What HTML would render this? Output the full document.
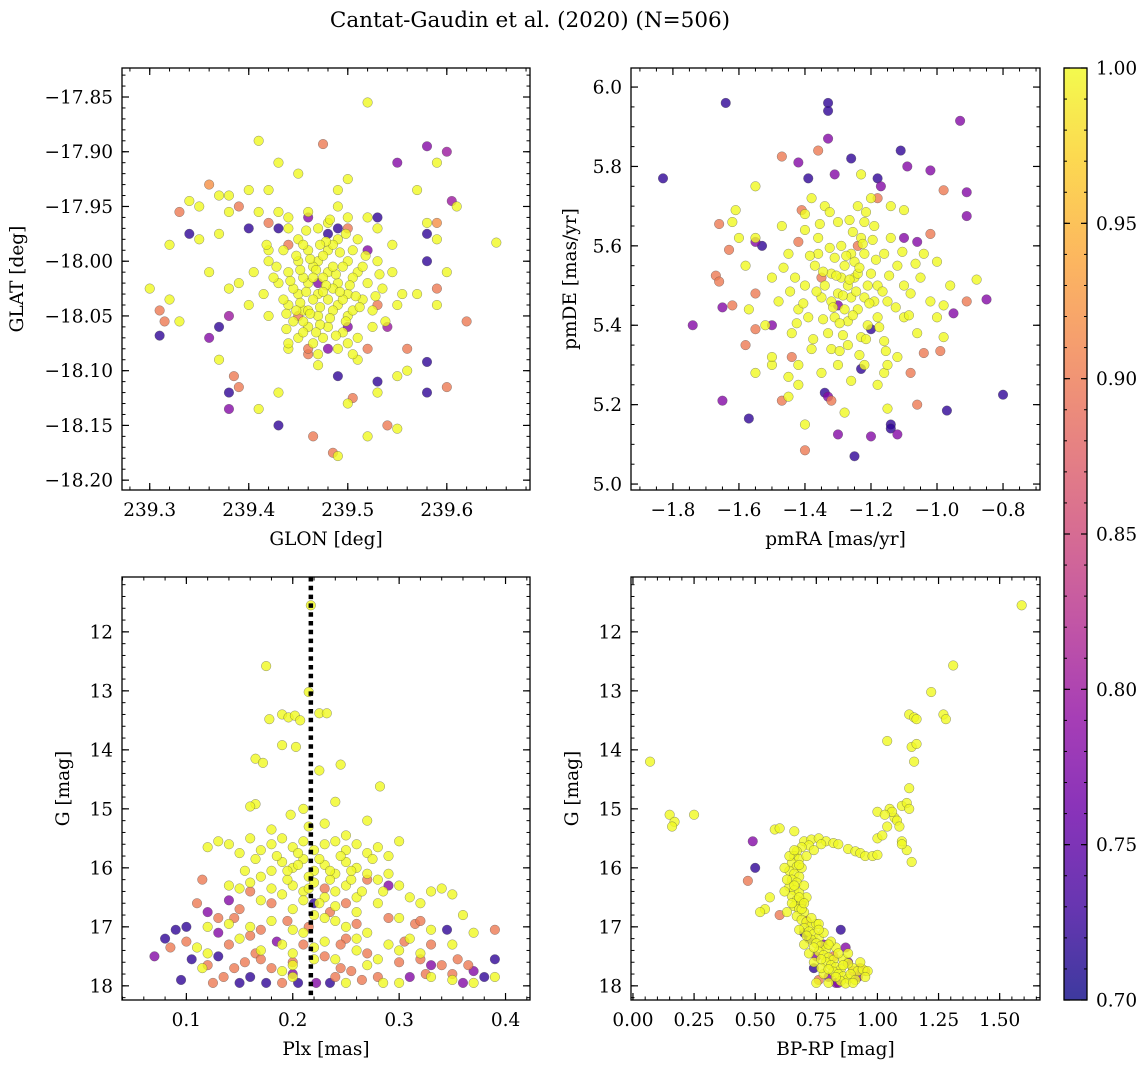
<!DOCTYPE html>
<html><head><meta charset="utf-8"><style>
html,body{margin:0;padding:0;background:#fff;}
svg{display:block;font-family:"DejaVu Serif","Liberation Serif",serif;}
</style></head><body>
<svg id="fig" width="1148" height="1067" viewBox="0 0 1148 1067" xmlns="http://www.w3.org/2000/svg">
<text x="530" y="27" font-size="21.5" text-anchor="middle">Cantat-Gaudin et al. (2020) (N=506)</text>
</svg>
<script>
// ---- data: [x, y, membership probability] ----
const skyStars = [
[239.52,-17.855,1],[239.41,-17.89,1],[239.475,-17.893,0.9],[239.58,-17.895,0.78],[239.60,-17.90,0.8],[239.55,-17.91,0.78],[239.59,-17.91,1],[239.43,-17.91,1],[239.45,-17.92,1],[239.50,-17.925,1],[239.49,-17.935,1],[239.57,-17.935,1],[239.36,-17.93,0.92],[239.37,-17.94,1],[239.38,-17.94,1],[239.40,-17.935,1],[239.42,-17.935,1],[239.34,-17.945,1],[239.33,-17.955,0.9],[239.35,-17.95,1],[239.38,-17.955,1],[239.39,-17.95,0.9],[239.41,-17.955,1],[239.44,-17.96,1],[239.50,-17.96,1],[239.53,-17.96,0.72],[239.58,-17.965,1],[239.59,-17.965,0.92],[239.61,-17.95,1],[239.605,-17.945,0.8],[239.65,-17.983,1],[239.32,-17.985,1],[239.35,-17.98,1],[239.37,-17.975,1],[239.34,-17.975,0.72],[239.40,-17.97,0.72],[239.42,-17.965,0.9],[239.58,-17.975,0.72],[239.59,-17.98,1],[239.30,-18.025,1],[239.32,-18.035,1],[239.31,-18.045,0.9],[239.315,-18.055,0.9],[239.33,-18.055,1],[239.31,-18.068,0.72],[239.36,-18.07,0.78],[239.37,-18.06,0.72],[239.38,-18.05,0.8],[239.36,-18.01,1],[239.38,-18.025,1],[239.37,-18.09,1],[239.38,-18.12,0.72],[239.39,-18.115,0.9],[239.385,-18.105,0.9],[239.38,-18.135,0.78],[239.41,-18.135,1],[239.43,-18.12,1],[239.43,-18.15,0.72],[239.465,-18.16,0.9],[239.49,-18.178,1],[239.485,-18.175,0.9],[239.52,-18.16,1],[239.54,-18.15,0.9],[239.55,-18.153,1],[239.50,-18.13,1],[239.505,-18.125,0.9],[239.53,-18.12,1],[239.53,-18.11,0.72],[239.49,-18.105,0.72],[239.47,-18.095,1],[239.51,-18.09,1],[239.55,-18.105,1],[239.56,-18.10,1],[239.58,-18.092,0.72],[239.58,-18.12,0.72],[239.60,-18.115,0.9],[239.62,-18.055,0.9],[239.59,-18.04,1],[239.59,-18.025,0.9],[239.60,-18.01,1],[239.58,-18.00,0.72],[239.57,-18.03,1],[239.55,-18.04,1],[239.56,-18.08,0.9],[239.44,-18.08,1],[239.45,-18.07,1],[239.42,-18.05,1],[239.40,-18.04,1],[239.39,-18.02,1],[239.42,-17.99,1],[239.43,-17.97,0.72],[239.52,-18.08,0.9],[239.54,-18.06,0.8],[239.46,-18.085,0.9],
[239.47,-18.00,1],[239.48,-18.01,1],[239.46,-18.02,1],[239.49,-18.02,1],[239.45,-18.00,1],[239.50,-18.00,1],[239.47,-18.03,1],[239.48,-17.99,1],[239.46,-17.99,1],[239.44,-18.01,1],[239.51,-18.01,1],[239.49,-18.04,1],[239.45,-18.03,1],[239.47,-18.05,1],[239.50,-18.03,1],[239.52,-18.02,1],[239.43,-18.02,1],[239.48,-18.06,1],[239.46,-18.06,1],[239.50,-18.05,1],[239.44,-18.04,1],[239.53,-18.00,1],[239.42,-18.00,1],[239.49,-17.98,1],[239.47,-17.97,1],[239.45,-17.98,1],[239.51,-17.98,1],[239.53,-17.97,1],[239.44,-17.97,1],[239.48,-17.965,1],[239.455,-18.015,1],[239.475,-18.015,1],[239.485,-18.025,1],[239.465,-18.035,1],[239.495,-18.005,1],[239.465,-18.005,1],[239.475,-17.995,1],[239.455,-18.045,1],[239.485,-18.045,1],[239.505,-18.015,1],[239.515,-18.035,1],[239.435,-18.035,1],[239.445,-18.055,1],[239.495,-18.065,1],[239.475,-18.07,1],[239.465,-18.075,1],[239.455,-18.065,1],[239.525,-18.045,1],[239.535,-18.025,1],[239.545,-18.01,1],[239.425,-18.015,1],[239.415,-18.03,1],[239.405,-18.01,1],[239.545,-17.985,1],[239.555,-18.03,1],[239.52,-17.96,1],[239.46,-17.955,1],[239.49,-17.95,1],[239.43,-17.955,1],[239.50,-18.075,1],[239.44,-18.075,1],[239.455,-17.985,1],[239.505,-17.99,1],[239.435,-17.99,1],[239.525,-18.06,1],[239.47,-18.085,1],[239.51,-18.07,1],[239.49,-18.08,1],[239.485,-17.985,1],[239.495,-18.035,1],[239.46,-18.045,1],[239.48,-18.035,1],[239.445,-18.025,1],[239.505,-18.045,1],[239.515,-18.005,1],
[239.468,-18.008,1],[239.478,-18.022,1],[239.458,-18.028,1],[239.488,-18.012,1],[239.472,-18.042,1],[239.462,-17.998,1],[239.492,-17.992,1],[239.482,-18.052,1],[239.452,-18.008,1],[239.502,-18.022,1],[239.442,-18.018,1],[239.512,-18.042,1],[239.472,-18.058,1],[239.452,-18.038,1],[239.498,-18.055,1],[239.438,-18.048,1],[239.518,-17.995,1],[239.478,-17.982,1],[239.458,-17.972,1],[239.498,-17.975,1],[239.428,-18.005,1],[239.532,-18.012,1],[239.465,-18.015,1],[239.485,-18.005,1],[239.475,-18.028,1],[239.455,-18.055,1],[239.488,-18.068,1],[239.468,-18.065,1],[239.438,-18.062,1],[239.528,-18.032,1],[239.448,-17.995,1],[239.508,-18.032,1],[239.462,-18.048,1],[239.492,-18.028,1],[239.448,-18.045,1],[239.418,-17.985,1],[239.538,-18.055,1],[239.472,-17.985,1],[239.482,-17.962,1],[239.505,-18.085,1],
[239.47,-18.02,0.78],[239.49,-17.97,0.72],[239.46,-17.96,0.78],[239.50,-17.97,0.9],[239.52,-17.99,0.78],[239.45,-18.05,0.9],[239.50,-18.06,0.78],[239.44,-17.985,0.9],[239.48,-17.975,0.72],[239.53,-18.04,0.9],[239.46,-18.08,0.9],[239.48,-18.08,0.78]
];
const pmStars = [
[-1.64,5.96,0.72],[-1.33,5.96,0.72],[-1.33,5.94,0.72],[-1.83,5.77,0.72],[-0.93,5.915,0.78],[-1.33,5.87,0.78],[-1.26,5.82,0.72],[-1.36,5.84,0.9],[-1.47,5.825,0.9],[-1.42,5.81,0.78],[-1.11,5.84,0.72],[-1.09,5.80,0.78],[-1.02,5.79,0.78],[-1.18,5.77,0.72],[-1.31,5.78,0.78],[-1.39,5.77,0.72],[-1.23,5.78,1],[-1.55,5.75,1],[-0.98,5.74,0.9],[-0.91,5.735,0.78],[-1.17,5.75,0.78],[-1.61,5.69,1],[-1.66,5.655,0.9],[-1.41,5.69,0.9],[-1.10,5.69,1],[-0.91,5.675,0.78],[-1.63,5.59,0.9],[-1.55,5.61,0.78],[-1.53,5.60,0.72],[-1.67,5.525,0.9],[-1.66,5.51,0.9],[-1.74,5.40,0.78],[-1.65,5.445,0.78],[-1.62,5.45,0.9],[-1.55,5.48,0.9],[-1.57,5.44,1],[-1.55,5.39,0.9],[-1.65,5.21,0.78],[-1.57,5.165,0.72],[-1.47,5.21,0.9],[-1.40,5.085,0.9],[-1.25,5.07,0.72],[-1.20,5.12,0.78],[-1.30,5.125,0.78],[-1.34,5.23,0.72],[-1.33,5.22,0.78],[-1.32,5.21,0.9],[-1.14,5.15,0.72],[-1.14,5.14,0.72],[-1.12,5.125,0.78],[-0.97,5.185,0.72],[-0.80,5.225,0.72],[-1.15,5.19,1],[-1.06,5.20,0.9],[-1.23,5.29,0.72],[-1.04,5.33,0.9],[-0.99,5.335,0.9],[-0.98,5.37,1],[-0.85,5.465,0.78],[-0.91,5.46,0.9],[-0.88,5.515,1],[-0.95,5.43,0.78],[-1.00,5.42,1],[-1.00,5.56,1],[-1.02,5.63,0.9],[-1.06,5.61,0.78],[-1.50,5.30,1],[-1.45,5.27,1],[-1.42,5.25,1],[-1.40,5.15,1],[-1.28,5.18,1],[-1.18,5.25,1],[-1.16,5.28,1],
[-1.27,5.50,1],[-1.25,5.52,1],[-1.30,5.48,1],[-1.22,5.47,1],[-1.28,5.55,1],[-1.32,5.53,1],[-1.24,5.44,1],[-1.20,5.53,1],[-1.35,5.47,1],[-1.26,5.58,1],[-1.31,5.42,1],[-1.18,5.50,1],[-1.29,5.60,1],[-1.23,5.62,1],[-1.37,5.55,1],[-1.15,5.46,1],[-1.33,5.38,1],[-1.21,5.40,1],[-1.40,5.50,1],[-1.12,5.55,1],[-1.27,5.35,1],[-1.36,5.62,1],[-1.19,5.65,1],[-1.42,5.44,1],[-1.10,5.42,1],[-1.30,5.66,1],[-1.24,5.70,1],[-1.45,5.58,1],[-1.16,5.36,1],[-1.38,5.34,1],[-1.08,5.48,1],[-1.34,5.70,1],[-1.22,5.30,1],[-1.48,5.46,1],[-1.05,5.52,1],[-1.26,5.26,1],[-1.40,5.64,1],[-1.14,5.62,1],[-1.44,5.38,1],[-1.12,5.32,1],[-1.50,5.52,1],[-1.02,5.46,1],[-1.30,5.30,1],[-1.20,5.72,1],[-1.47,5.65,1],[-1.35,5.28,1],[-1.06,5.38,1],[-1.52,5.40,1],[-1.58,5.55,1],[-1.55,5.62,1],[-1.04,5.58,1],[-1.28,5.44,1],[-1.25,5.56,1],[-1.32,5.46,1],[-1.22,5.58,1],[-1.18,5.42,1],[-1.36,5.58,1],[-1.29,5.52,1],[-1.21,5.50,1],[-1.26,5.47,1],[-1.34,5.50,1],[-1.24,5.53,1],[-1.31,5.57,1],[-1.19,5.46,1],[-1.27,5.41,1],[-1.23,5.37,1],[-1.39,5.42,1],[-1.16,5.58,1],[-1.43,5.52,1],[-1.10,5.50,1],[-1.40,5.68,1],[-1.38,5.72,1],[-1.32,5.34,1],[-1.42,5.30,1],[-1.45,5.22,1],[-1.15,5.30,1],[-0.96,5.50,1],[-0.98,5.45,1],[-1.60,5.62,1],[-1.62,5.66,1],[-1.55,5.28,1],[-1.50,5.32,1],[-1.14,5.70,1],[-1.22,5.66,1],
[-1.265,5.515,1],[-1.285,5.475,1],[-1.245,5.485,1],[-1.305,5.525,1],[-1.235,5.545,1],[-1.275,5.575,1],[-1.315,5.445,1],[-1.205,5.455,1],[-1.255,5.425,1],[-1.345,5.535,1],[-1.185,5.565,1],[-1.295,5.405,1],[-1.225,5.605,1],[-1.365,5.485,1],[-1.165,5.485,1],[-1.325,5.595,1],[-1.255,5.635,1],[-1.385,5.575,1],[-1.145,5.525,1],[-1.215,5.365,1],[-1.285,5.375,1],[-1.345,5.415,1],[-1.175,5.395,1],[-1.405,5.455,1],[-1.125,5.445,1],[-1.265,5.665,1],[-1.355,5.655,1],[-1.195,5.615,1],[-1.425,5.405,1],[-1.105,5.585,1],[-1.295,5.335,1],[-1.235,5.325,1],[-1.465,5.545,1],[-1.085,5.425,1],[-1.375,5.365,1],[-1.155,5.335,1],[-1.325,5.685,1],[-1.215,5.685,1],[-1.445,5.485,1],[-1.065,5.555,1],
[-1.30,5.45,0.78],[-1.24,5.60,0.9],[-1.35,5.52,0.9],[-1.20,5.39,0.72],[-1.42,5.61,0.9],[-1.18,5.72,0.9],[-1.44,5.32,0.9],[-1.50,5.40,0.78],[-1.58,5.35,0.9],[-1.10,5.62,0.78],[-1.08,5.28,0.9]
];
const plxStars = [
[0.07,17.5,0.78],[0.08,17.2,0.72],[0.09,17.05,0.72],[0.10,17.0,0.72],[0.085,17.35,0.9],[0.095,17.9,0.72],[0.105,17.55,0.72],[0.11,16.6,0.9],[0.115,16.2,0.9],[0.12,17.65,0.9],[0.125,17.95,0.9],[0.13,17.1,0.78],[0.135,17.85,0.9],[0.14,17.3,0.9],[0.145,16.85,0.9],[0.15,17.95,0.72],[0.155,17.6,0.9],[0.16,17.85,0.72],[0.165,17.45,0.9],[0.17,17.05,0.9],[0.175,17.95,0.72],[0.18,17.7,0.9],[0.185,17.25,0.78],[0.19,17.95,0.9],[0.195,16.9,0.9],[0.20,17.6,0.9],[0.205,17.95,0.72],[0.21,17.3,0.9],[0.215,17.0,0.9],[0.222,17.95,0.78],[0.23,17.5,0.9],[0.235,16.75,0.9],[0.24,17.85,0.9],[0.245,17.7,0.9],[0.25,17.2,0.9],[0.255,17.75,0.9],[0.26,16.95,0.9],[0.265,17.9,0.9],[0.27,17.45,0.9],[0.28,17.85,0.9],[0.29,16.85,0.9],[0.30,17.6,0.9],[0.305,17.25,0.9],[0.31,17.85,0.78],[0.315,16.95,0.9],[0.32,17.55,0.9],[0.325,17.8,0.9],[0.33,17.3,0.9],[0.34,17.65,0.9],[0.345,17.05,0.72],[0.35,17.8,0.9],[0.355,17.55,0.9],[0.36,17.95,0.78],[0.365,17.65,0.9],[0.37,17.75,0.78],[0.38,17.85,0.72],[0.39,17.55,0.72],[0.39,17.05,0.9],[0.12,16.75,0.78],[0.13,16.85,0.9],[0.14,16.55,0.78],[0.15,16.7,0.9],[0.16,16.4,0.9],[0.18,16.6,0.9],[0.23,16.35,0.9],[0.25,16.6,0.9],[0.27,16.2,0.9],[0.29,16.3,0.78],[0.32,16.9,0.9],[0.33,17.65,0.78],[0.145,17.7,0.9],[0.16,17.15,0.9],[0.2,17.8,0.78],[0.235,17.95,0.72],[0.245,17.3,0.9],[0.13,17.5,0.72],[0.1,17.25,0.9],[0.22,16.6,0.72],[0.17,17.55,0.9],
[0.217,11.55,1],[0.175,12.58,1],[0.215,13.02,1],[0.225,13.38,1],[0.232,13.38,1],[0.19,13.4,1],[0.196,13.45,1],[0.202,13.42,1],[0.178,13.48,1],[0.207,13.5,1],[0.203,13.95,1],[0.19,13.92,1],[0.165,14.15,1],[0.172,14.22,1],[0.245,14.25,1],[0.225,14.35,1],[0.165,14.92,1],[0.16,14.96,1],[0.24,14.88,1],[0.282,14.62,1],[0.21,15.0,1],[0.198,15.1,1],[0.215,15.3,1],[0.27,15.2,1],[0.23,15.25,1],[0.18,15.35,1],[0.25,15.45,1],
[0.13,15.55,1],[0.14,15.6,1],[0.12,15.65,1],[0.15,15.75,1],[0.16,15.5,1],[0.17,15.7,1],[0.18,15.6,1],[0.19,15.5,1],[0.2,15.65,1],[0.21,15.55,1],[0.22,15.7,1],[0.23,15.6,1],[0.24,15.55,1],[0.25,15.7,1],[0.26,15.6,1],[0.27,15.75,1],[0.28,15.65,1],[0.29,15.8,1],[0.3,15.55,1],
[0.19,15.9,1],[0.2,16.0,1],[0.21,15.85,1],[0.22,16.05,1],[0.23,15.95,1],[0.24,16.1,1],[0.25,15.9,1],[0.26,16.0,1],[0.27,16.1,1],[0.18,16.05,1],[0.17,16.15,1],[0.16,16.25,1],[0.15,16.35,1],[0.14,16.3,1],[0.28,16.2,1],[0.29,16.1,1],[0.3,16.3,1],[0.31,16.5,1],[0.32,16.6,1],[0.33,16.4,1],[0.34,16.35,1],[0.35,16.45,1],[0.36,16.8,1],
[0.2,16.3,1],[0.21,16.4,1],[0.22,16.25,1],[0.23,16.5,1],[0.24,16.4,1],[0.25,16.3,1],[0.26,16.5,1],[0.19,16.45,1],[0.18,16.35,1],[0.17,16.55,1],[0.2,16.7,1],[0.22,16.8,1],[0.24,16.9,1],[0.26,16.75,1],[0.28,16.6,1],[0.3,16.85,1],[0.18,16.9,1],[0.16,17.0,1],[0.14,16.95,1],[0.12,17.0,1],[0.11,17.35,1],[0.15,17.2,1],[0.19,17.3,1],[0.21,17.1,1],[0.23,17.25,1],[0.25,17.0,1],[0.27,17.1,1],[0.29,17.3,1],[0.31,17.2,1],[0.33,17.05,1],[0.35,17.3,1],[0.37,17.1,1],[0.17,17.4,1],[0.2,17.45,1],[0.22,17.55,1],[0.26,17.4,1],[0.28,17.55,1],[0.3,17.4,1],[0.32,17.45,1],[0.2,17.85,1],[0.19,17.75,1],[0.25,17.95,1],[0.27,17.65,1],[0.285,17.95,1],[0.3,17.95,1],[0.33,17.85,1],[0.35,17.9,1],[0.37,17.95,1],[0.39,17.85,1],[0.12,17.45,1],[0.115,17.7,1],[0.205,15.75,1],[0.215,16.15,1],[0.195,16.2,1],[0.225,16.6,1],[0.235,16.2,1],[0.255,16.2,1],[0.265,16.4,1],[0.275,15.85,1],[0.185,15.8,1],[0.165,15.85,1],[0.155,16.05,1],[0.285,16.4,1],
[0.205,15.95,1],[0.225,15.85,1],[0.245,15.8,1],[0.215,16.35,1],[0.235,16.05,1],[0.195,16.05,1],[0.255,16.05,1],[0.21,16.55,1],[0.24,16.65,1],[0.23,16.85,1],[0.2,17.05,1],[0.26,17.2,1],[0.22,17.35,1],[0.24,17.55,1],[0.2,17.65,1]
];
const cmdStars = [
[0.07,14.2,1],[0.15,15.1,1],[0.17,15.22,1],[0.16,15.3,1],[0.25,15.1,1],[0.49,15.55,0.78],[0.5,16.0,0.72],[0.47,16.22,0.9],[0.58,15.35,1],[0.6,15.33,1],[0.66,15.38,1],[0.6,16.8,0.9],[0.54,16.7,1],[0.56,16.5,1],[0.83,17.95,0.78],[0.52,16.75,1],
[0.88,15.68,1],[0.91,15.72,1],[0.93,15.75,1],[0.95,15.8,1],[0.98,15.8,1],[1.0,15.78,1],[1.0,15.5,1],[1.02,15.45,1],[1.04,15.3,1],[1.07,15.15,1],[1.0,15.05,1],[1.05,15.0,1],[1.1,14.95,1],[1.12,14.9,1],[1.13,15.0,1],[1.13,14.65,1],[1.15,14.2,1],[1.14,13.95,1],[1.16,13.9,1],[1.04,13.85,1],[1.13,13.4,1],[1.15,13.45,1],[1.16,13.48,1],[1.27,13.4,1],[1.28,13.48,1],[1.22,13.02,1],[1.31,12.57,1],[1.59,11.55,1],[1.1,15.55,1],[1.12,15.7,1],[1.14,15.9,1],[1.08,15.2,1],[1.06,15.05,1],[1.03,15.1,1],[1.09,15.3,1],[1.1,15.6,1],
[0.78,17.3,0.78],[0.82,17.5,0.9],[0.88,17.6,0.78],[0.9,17.75,0.9],[0.85,17.05,0.72],[0.74,17.7,0.72],[0.76,17.9,0.9],[0.8,17.85,0.78],[0.93,17.7,0.9],[0.95,17.75,0.9],[0.87,17.35,0.78],[0.72,17.2,0.72],[0.7,17.1,0.72],[0.75,17.5,0.78],[0.92,17.85,0.78],[0.69,16.6,0.78],[0.71,16.9,0.9],[0.84,17.95,0.78],
[0.70,15.55,1],[0.73,15.52,1],[0.76,15.5,1],[0.79,15.55,1],[0.82,15.58,1],[0.77,15.6,1],[0.72,15.62,1],[0.69,15.65,1],[0.67,15.72,1],[0.66,15.8,1],[0.68,15.85,1],[0.65,15.92,1],[0.67,15.98,1],[0.64,16.05,1],[0.66,16.1,1],[0.68,16.15,1],[0.65,16.2,1],[0.67,16.25,1],[0.64,16.32,1],[0.66,16.38,1],[0.68,16.42,1],[0.65,16.48,1],[0.67,16.55,1],[0.69,16.58,1],[0.66,16.65,1],[0.68,16.7,1],[0.70,16.75,1],[0.67,16.82,1],[0.69,16.88,1],[0.71,16.92,1],[0.73,16.98,1],[0.70,17.02,1],[0.72,17.08,1],[0.74,17.12,1],[0.76,17.18,1],[0.73,17.22,1],[0.75,17.28,1],[0.77,17.32,1],[0.79,17.38,1],[0.76,17.42,1],[0.78,17.48,1],[0.8,17.52,1],[0.82,17.56,1],[0.79,17.6,1],[0.81,17.65,1],[0.83,17.68,1],[0.85,17.72,1],[0.82,17.76,1],[0.84,17.8,1],[0.86,17.84,1],[0.88,17.88,1],[0.85,17.92,1],[0.87,17.96,1],[0.9,17.7,1],[0.92,17.75,1],[0.94,17.72,1],[0.96,17.75,1],[0.89,17.8,1],[0.91,17.9,1],[0.78,17.8,1],[0.80,17.95,1],[0.74,17.6,1],[0.72,17.45,1],[0.70,17.3,1],[0.68,17.05,1],[0.75,16.95,1],[0.63,16.75,1],[0.71,16.5,1],[0.70,16.3,1],[0.69,16.0,1],[0.71,15.8,1],[0.74,15.7,1],[0.84,15.6,1],[0.86,17.55,1],[0.88,17.45,1],[0.83,17.35,1],[0.81,17.25,1],[0.78,17.1,1],[0.76,16.95,1],[0.65,16.6,1],[0.62,16.4,1],[0.63,16.2,1],[0.62,16.0,1],[0.64,15.8,1],[0.75,17.95,1],[0.77,17.7,1],[0.93,17.6,1],[0.88,17.62,1],[0.9,17.95,1],[0.95,17.85,1],
[0.66,15.7,1],[0.68,15.95,1],[0.66,16.3,1],[0.68,16.5,1],[0.69,16.7,1],[0.71,17.15,1],[0.74,17.35,1],[0.77,17.55,1],[0.8,17.72,1],[0.83,17.85,1],[0.86,17.65,1],[0.84,17.45,1],[0.8,17.3,1],[0.76,17.05,1],[0.73,16.85,1],[0.7,16.6,1]
];
const plxMean = [0.217];
const glonTicks = [239.3,239.4,239.5,239.6];
const glatTicks = [-17.85,-17.90,-17.95,-18.00,-18.05,-18.10,-18.15,-18.20];
const pmraTicks = [-1.8,-1.6,-1.4,-1.2,-1.0,-0.8];
const pmdeTicks = [5.0,5.2,5.4,5.6,5.8,6.0];
const plxTicks = [0.1,0.2,0.3,0.4];
const gTicks = [12,13,14,15,16,17,18];
const bprpTicks = [0.00,0.25,0.50,0.75,1.00,1.25,1.50];
const cbarTicks = [0.70,0.75,0.80,0.85,0.90,0.95,1.00];

const NS="http://www.w3.org/2000/svg";
const svg=document.getElementById('fig');
function mk(tag,attrs,parent){const e=document.createElementNS(NS,tag);for(const k in attrs)e.setAttribute(k,attrs[k]);(parent||svg).appendChild(e);return e;}
const stops=[[0,[13,8,135]],[0.1,[65,4,157]],[0.2,[106,0,168]],[0.3,[143,13,164]],[0.4,[177,42,144]],[0.5,[204,71,120]],[0.6,[225,100,98]],[0.7,[242,132,75]],[0.8,[252,166,54]],[0.9,[252,206,37]],[1,[240,249,33]]];
function plasma(t){t=Math.max(0,Math.min(1,t));for(let i=1;i<stops.length;i++){if(t<=stops[i][0]){const a=stops[i-1],b=stops[i];const f=(t-a[0])/(b[0]-a[0]);const c=a[1].map((v,j)=>Math.round(v+(b[1][j]-v)*f));return 'rgb('+c.join(',')+')';}}return 'rgb(240,249,33)';}
const VMIN=0.7,VMAX=1.0;
const FS=18.5;
function lin(d0,d1,r0,r1){return v=>r0+(v-d0)/(d1-d0)*(r1-r0);}

function panel(o){
  const g=mk('g',{});
  
  
  const sx=lin(o.xd[0],o.xd[1],o.L,o.R), sy=lin(o.yd[0],o.yd[1],o.B,o.T);
  const pts=o.data.slice().sort((a,b)=>a[2]-b[2]);
  for(const p of pts){
    const c=mk('circle',{cx:sx(p[0]).toFixed(2),cy:sy(p[1]).toFixed(2),r:4.8,fill:plasma((p[2]-VMIN)/(VMAX-VMIN)),'fill-opacity':0.8,stroke:'rgba(70,70,70,0.6)','stroke-width':0.5},g);
    
    
  }
  if(o.vline){for(const v of o.vline){const l=mk('line',{x1:sx(v),x2:sx(v),y1:o.T,y2:o.B,stroke:'#000','stroke-width':4.5,'stroke-dasharray':'4.5 4.3'},g);
    
    }}
  const f=mk('rect',{x:o.L,y:o.T,width:o.R-o.L,height:o.B-o.T,fill:'none',stroke:'#000','stroke-width':1.3},g);
  
  
  const eps=1e-9;
  for(let v=Math.ceil(o.xd[0]/o.xm-eps)*o.xm;v<=o.xd[1]+eps;v+=o.xm){const x=sx(v);mk('line',{x1:x,x2:x,y1:o.B,y2:o.B-3.5,stroke:'#000','stroke-width':1},g);mk('line',{x1:x,x2:x,y1:o.T,y2:o.T+3.5,stroke:'#000','stroke-width':1},g);}
  const ylo=Math.min(o.yd[0],o.yd[1]),yhi=Math.max(o.yd[0],o.yd[1]);
  for(let v=Math.ceil(ylo/o.ym-eps)*o.ym;v<=yhi+eps;v+=o.ym){const y=sy(v);mk('line',{x1:o.L,x2:o.L+3.5,y1:y,y2:y,stroke:'#000','stroke-width':1},g);mk('line',{x1:o.R,x2:o.R-3.5,y1:y,y2:y,stroke:'#000','stroke-width':1},g);}
  for(const v of o.xt){const x=sx(v);mk('line',{x1:x,x2:x,y1:o.B,y2:o.B-7,stroke:'#000','stroke-width':1.2},g);mk('line',{x1:x,x2:x,y1:o.T,y2:o.T+7,stroke:'#000','stroke-width':1.2},g);
    const t=mk('text',{x:x,y:o.B+26,'font-size':FS,'text-anchor':'middle'},g);t.textContent=o.xf(v).replace('-','\u2212');
    
    }
  for(const v of o.yt){const y=sy(v);mk('line',{x1:o.L,x2:o.L+7,y1:y,y2:y,stroke:'#000','stroke-width':1.2},g);mk('line',{x1:o.R,x2:o.R-7,y1:y,y2:y,stroke:'#000','stroke-width':1.2},g);
    const t=mk('text',{x:o.L-9,y:y+6.5,'font-size':FS,'text-anchor':'end'},g);t.textContent=o.yf(v).replace('-','\u2212');
    
    }
  const xl=mk('text',{x:(o.L+o.R)/2,y:o.B+55,'font-size':FS,'text-anchor':'middle'},g);xl.textContent=o.xlabel;
  
  
  const yx=o.ylx, yy=(o.T+o.B)/2;
  const yl=mk('text',{x:yx,y:yy,'font-size':FS,'text-anchor':'middle',transform:'rotate(-90 '+yx+' '+yy+')'},g);yl.textContent=o.ylabel;
  
  
}
panel({name:'sky-position-panel',data:skyStars,L:122,R:530,T:68,B:490,xd:[239.272,239.684],yd:[-18.209,-17.8235],xt:glonTicks,yt:glatTicks,xm:0.02,ym:0.01,xf:v=>v.toFixed(1),yf:v=>v.toFixed(2),xlabel:'GLON [deg]',ylabel:'GLAT [deg]',ylx:23});
panel({name:'proper-motion-panel',data:pmStars,L:631,R:1040,T:68,B:490,xd:[-1.927,-0.688],yd:[4.985,6.048],xt:pmraTicks,yt:pmdeTicks,xm:0.05,ym:0.05,xf:v=>v.toFixed(1),yf:v=>v.toFixed(1),xlabel:'pmRA [mas/yr]',ylabel:'pmDE [mas/yr]',ylx:576});
panel({name:'parallax-magnitude-panel',data:plxStars,vline:plxMean,L:122,R:530,T:577,B:1000,xd:[0.0395,0.423],yd:[18.24,11.07],xt:plxTicks,yt:gTicks,xm:0.02,ym:0.2,xf:v=>v.toFixed(1),yf:v=>String(v),xlabel:'Plx [mas]',ylabel:'G [mag]',ylx:69});
panel({name:'color-magnitude-panel',data:cmdStars,L:631,R:1040,T:577,B:1000,xd:[-0.008,1.665],yd:[18.24,11.07],xt:bprpTicks,yt:gTicks,xm:0.05,ym:0.2,xf:v=>v.toFixed(2),yf:v=>String(v),xlabel:'BP-RP [mag]',ylabel:'G [mag]',ylx:578});

const cb=mk('g',{});


const CL=1064,CR=1087,CT=68,CB=1000;
const defs=mk('defs',{},svg);
const grad=mk('linearGradient',{id:'cbg',x1:0,y1:1,x2:0,y2:0},defs);
for(let i=0;i<=20;i++){mk('stop',{offset:(i/20),'stop-color':plasma(i/20),'stop-opacity':0.8},grad);}
mk('rect',{x:CL,y:CT,width:CR-CL,height:CB-CT,fill:'url(#cbg)',stroke:'#000','stroke-width':1.3},cb);
const cy=lin(VMIN,VMAX,CB,CT);
for(let v=0.70;v<=1.0001;v+=0.01){const y=cy(v);mk('line',{x1:CR,x2:CR-3,y1:y,y2:y,stroke:'#000','stroke-width':1},cb);mk('line',{x1:CL,x2:CL+3,y1:y,y2:y,stroke:'#000','stroke-width':1},cb);}
for(const v of cbarTicks){const y=cy(v);mk('line',{x1:CR,x2:CR-6,y1:y,y2:y,stroke:'#000','stroke-width':1.2},cb);mk('line',{x1:CL,x2:CL+6,y1:y,y2:y,stroke:'#000','stroke-width':1.2},cb);
  const t=mk('text',{x:CR+9,y:y+6.5,'font-size':FS},cb);t.textContent=v.toFixed(2);
  
  }
</script>
</body></html>
